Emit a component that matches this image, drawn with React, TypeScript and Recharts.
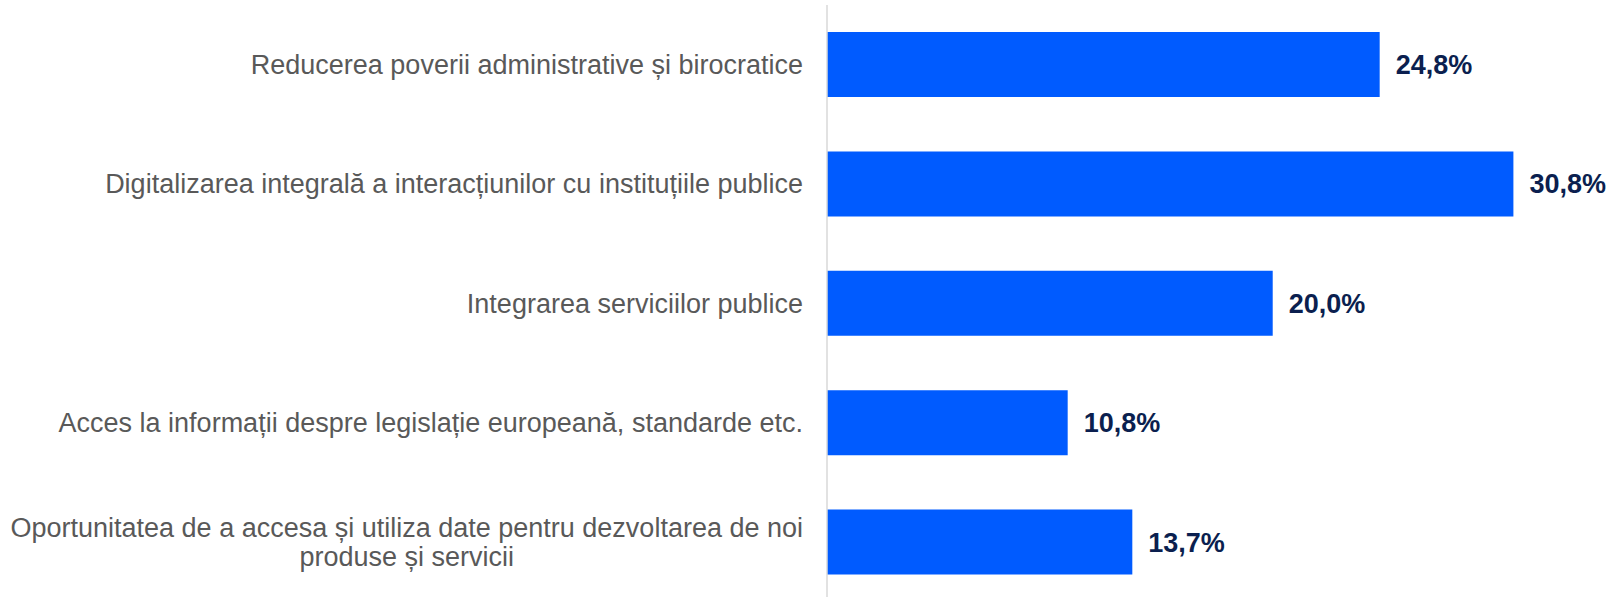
import React from "react";
import { BarChart, Bar, XAxis, YAxis, LabelList } from "recharts";

const categories: string[] = [
  "Reducerea poverii administrative și birocratice",
  "Digitalizarea integrală a interacțiunilor cu instituțiile publice",
  "Integrarea serviciilor publice",
  "Acces la informații despre legislație europeană, standarde etc.",
  "Oportunitatea de a accesa și utiliza date pentru dezvoltarea de noi\nproduse și servicii",
];
const values: number[] = [24.8, 30.8, 20.0, 10.8, 13.7];

const data = categories.map((c, i) => ({ name: c, value: values[i] }));

const fmt = (v: any) => `${Number(v).toFixed(1).replace(".", ",")}%`;

const FONT = "'Liberation Sans', Arial, sans-serif";
const LABEL_SIZE = 27;

let ctx: CanvasRenderingContext2D | null = null;
const measure = (s: string): number => {
  if (!ctx && typeof document !== "undefined") {
    ctx = document.createElement("canvas").getContext("2d");
  }
  if (!ctx) return s.length * LABEL_SIZE * 0.5;
  ctx.font = `${LABEL_SIZE}px ${FONT}`;
  return ctx.measureText(s).width;
};

const Tick = (props: any) => {
  const { x, y, payload } = props;
  const lines: string[] = String(payload.value).split("\n");
  const lh = 29;
  const start = y - ((lines.length - 1) * lh) / 2;
  const multi = lines.length > 1;
  const maxW = multi ? Math.max(...lines.map(measure)) : 0;
  const cx = multi ? x - maxW / 2 : x;
  return (
    <text
      x={cx}
      y={start}
      textAnchor={multi ? "middle" : "end"}
      fill="#595959"
      fontSize={LABEL_SIZE}
      fontFamily={FONT}
    >
      {lines.map((l, i) => (
        <tspan key={i} x={cx} y={start + i * lh} dominantBaseline="central">
          {l}
        </tspan>
      ))}
    </text>
  );
};

export default function App() {
  return (
    <div style={{ position: "absolute", left: 0, top: 0, background: "#fff" }}>
      <BarChart
        width={1612}
        height={602}
        data={data}
        layout="vertical"
        margin={{ top: 5, right: 5, bottom: 0, left: 0 }}
      >
        <XAxis type="number" domain={[0, 35]} hide />
        <YAxis
          type="category"
          dataKey="name"
          width={827}
          tickLine={false}
          tickSize={0}
          tickMargin={24}
          axisLine={{ stroke: "#d9d9d9", strokeWidth: 1.5 }}
          tick={<Tick />}
          interval={0}
        />
        <Bar dataKey="value" fill="#005BFF" barSize={65} isAnimationActive={false}>
          <LabelList
            dataKey="value"
            position="right"
            offset={16}
            formatter={fmt}
            fill="#0B1F4F"
            fontSize={27}
            fontWeight="bold"
            fontFamily={FONT}
          />
        </Bar>
      </BarChart>
    </div>
  );
}
